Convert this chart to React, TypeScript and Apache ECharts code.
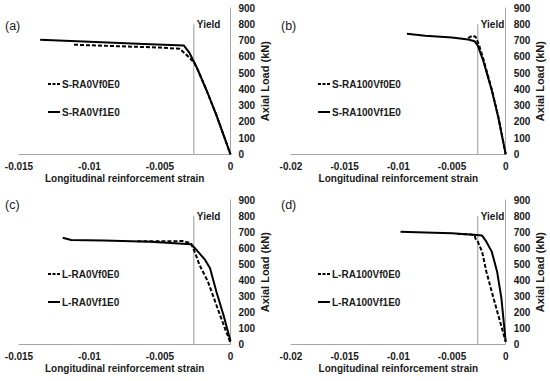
import React, { useEffect, useRef } from "react";
import * as echarts from "echarts";

// Panel (a)
const strainA0 = [-0.0111, -0.008, -0.005, -0.0036, -0.0032, -0.0026, -0.0023, -0.0017, -0.001, 0];
const loadA0 = [674, 665, 657, 649, 618, 567, 516, 394, 241, 0];
const strainA1 = [-0.0135, -0.01, -0.0057, -0.0033, -0.0029, -0.0024, -0.0017, -0.001, 0];
const loadA1 = [704, 692, 677, 669, 622, 536, 394, 241, 0];
// Panel (b)
const strainB0 = [-0.0035, -0.0031, -0.0028, -0.0025, -0.0021, -0.0013, -0.0007, 0];
const loadB0 = [715, 730, 722, 675, 590, 400, 235, 0];
const strainB1 = [-0.0092, -0.0075, -0.005, -0.0035, -0.0029, -0.0026, -0.0021, -0.0013, -0.0007, 0];
const loadB1 = [741, 729, 719, 706, 696, 669, 577, 394, 230, 0];
// Panel (c)
const strainC0 = [-0.0066, -0.0045, -0.0034, -0.0028, -0.0025, -0.0022, -0.0016, -0.001, -0.0004, 0];
const loadC0 = [643, 642, 644, 630, 568, 495, 391, 245, 100, 10];
const strainC1 = [-0.0119, -0.0113, -0.009, -0.0057, -0.0028, -0.0024, -0.0018, -0.00145, -0.001, -0.0005, 0];
const loadC1 = [665, 651, 648, 640, 624, 588, 526, 474, 328, 183, 20];
// Panel (d)
const strainD0 = [-0.0045, -0.0034, -0.0029, -0.0028, -0.0026, -0.0022, -0.0018, -0.0013, -0.0007, 0];
const loadD0 = [688, 686, 680, 657, 640, 578, 453, 328, 183, 16];
const strainD1 = [-0.0098, -0.0075, -0.005, -0.003, -0.0022, -0.0018, -0.0013, -0.0008, -0.0004, 0];
const loadD1 = [702, 698, 692, 684, 678, 640, 578, 453, 287, 16];

const yieldStrain = -0.0026;
const yieldTop = 800;

const panelLabels = ["(a)", "(b)", "(c)", "(d)"];
const names0 = ["S-RA0Vf0E0", "S-RA100Vf0E0", "L-RA0Vf0E0", "L-RA100Vf0E0"];
const names1 = ["S-RA0Vf1E0", "S-RA100Vf1E0", "L-RA0Vf1E0", "L-RA100Vf1E0"];
const xMins = [-0.015, -0.02, -0.015, -0.02];
const xTitle = "Longitudinal reinforcement strain";
const yTitle = "Axial Load (kN)";

const strains0 = [strainA0, strainB0, strainC0, strainD0];
const loads0 = [loadA0, loadB0, loadC0, loadD0];
const strains1 = [strainA1, strainB1, strainC1, strainD1];
const loads1 = [loadA1, loadB1, loadC1, loadD1];

const FONT = "'Liberation Sans', Arial, sans-serif";
const TXT = "#1a1a1a";
const AXIS = "#a6a6a6";

const ICON_DASH = "path://M0,0h3v2h-3z M4.5,0h3v2h-3z M9,0h3v2h-3z";
const ICON_SOLID = "path://M0,0h12v2h-12z";

const grids = [
  { left: 19, top: 8, width: 211.5, height: 146.3 },
  { left: 291, top: 8, width: 214.7, height: 146.3 },
  { left: 19, top: 200, width: 211.5, height: 144.3 },
  { left: 291, top: 200, width: 214.7, height: 144.3 },
];
const legendPos = [
  { left: 48, top: 79 },
  { left: 318, top: 79 },
  { left: 48, top: 269 },
  { left: 318, top: 269 },
];
const labelPos = [
  { x: 5, y: 26 },
  { x: 281, y: 26 },
  { x: 5, y: 205 },
  { x: 281, y: 205 },
];

const zip = (xs: number[], ys: number[]) => xs.map((x, i) => [x, ys[i]]);

export default function App() {
  const ref = useRef<HTMLDivElement>(null);
  useEffect(() => {
    if (!ref.current) return;
    const chart = echarts.init(ref.current, null, { renderer: "svg" });
    const series: any[] = [];
    for (let i = 0; i < 4; i++) {
      series.push({
        name: names0[i],
        type: "line",
        xAxisIndex: i,
        yAxisIndex: i,
        data: zip(strains0[i], loads0[i]),
        symbol: "none",
        lineStyle: { color: "#000", width: 2, type: [4, 2] },
        itemStyle: { color: "#000" },
        z: 3,
      });
      series.push({
        name: names1[i],
        type: "line",
        xAxisIndex: i,
        yAxisIndex: i,
        data: zip(strains1[i], loads1[i]),
        symbol: "none",
        lineStyle: { color: "#000", width: 2, type: "solid" },
        itemStyle: { color: "#000" },
        z: 3,
      });
      series.push({
        name: "Yield" + i,
        type: "line",
        xAxisIndex: i,
        yAxisIndex: i,
        symbol: "circle",
        symbolSize: 0,
        data: [
          [yieldStrain, 0],
          {
            value: [yieldStrain, yieldTop],
            label: {
              show: true,
              formatter: "Yield",
              position: "right",
              distance: 3,
              fontFamily: FONT,
              fontSize: 10,
              fontWeight: "bold",
              color: TXT,
            },
          },
        ],
        lineStyle: { color: "#999", width: 1 },
        itemStyle: { color: "#999" },
        z: 2,
      });
    }
    const option: any = {
      animation: false,
      backgroundColor: "#fff",
      grid: grids.map((g) => ({ ...g, containLabel: false })),
      xAxis: grids.map((_, i) => ({
        gridIndex: i,
        type: "value",
        min: xMins[i],
        max: 0,
        interval: 0.005,
        axisLine: { show: true, onZero: false, lineStyle: { color: AXIS, width: 1 } },
        axisTick: { show: false },
        splitLine: { show: false },
        axisLabel: { margin: 7, fontFamily: FONT, fontSize: 10, fontWeight: "bold", color: TXT },
        name: xTitle,
        nameLocation: "middle",
        nameGap: 19,
        nameTextStyle: { fontFamily: FONT, fontSize: 10, fontWeight: "bold", color: TXT },
      })),
      yAxis: grids.map((_, i) => ({
        gridIndex: i,
        type: "value",
        position: "right",
        min: 0,
        max: 900,
        interval: 100,
        axisLine: { show: true, onZero: false, lineStyle: { color: AXIS, width: 1 } },
        axisTick: { show: false },
        splitLine: { show: false },
        axisLabel: { margin: 8, fontFamily: FONT, fontSize: 10, fontWeight: "bold", color: TXT },
        name: yTitle,
        nameLocation: "middle",
        nameRotate: 90,
        nameGap: 28,
        nameTextStyle: { fontFamily: FONT, fontSize: 11, fontWeight: "bold", color: TXT },
      })),
      legend: grids.map((_, i) => ({
        data: [
          { name: names0[i], icon: ICON_DASH },
          { name: names1[i], icon: ICON_SOLID },
        ],
        orient: "vertical",
        left: legendPos[i].left,
        top: legendPos[i].top,
        itemWidth: 12,
        itemHeight: 2,
        itemGap: 18,
        padding: 0,
        selectedMode: false,
        itemStyle: { color: "#000" },
        textStyle: { fontFamily: FONT, fontSize: 10, fontWeight: "bold", color: TXT, padding: [0, 0, 0, -3] },
      })),
      graphic: panelLabels.map((t, i) => ({
        type: "text",
        left: labelPos[i].x,
        top: labelPos[i].y - 7,
        style: { text: t, fontFamily: FONT, fontSize: 12.5, fill: TXT },
      })),
      series,
    };
    chart.setOption(option);
    return () => chart.dispose();
  }, []);
  return (
    <div
      ref={ref}
      style={{ position: "fixed", left: 0, top: 0, width: 550, height: 381, background: "#fff" }}
    />
  );
}
